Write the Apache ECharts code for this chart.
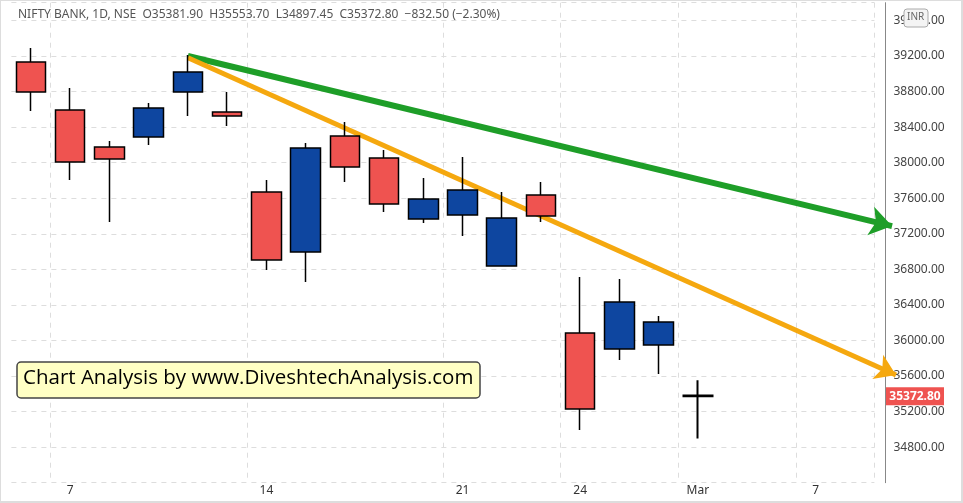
<!DOCTYPE html>
<html><head><meta charset="utf-8">
<script src="https://cdn.jsdelivr.net/npm/echarts@6/dist/echarts.min.js"></script>
<style>html,body{margin:0;padding:0;background:#fff}#c{width:963px;height:503px}</style>
</head><body><div id="c"></div>
<script>
const categories = ['4','7','8','9','10','11','14','15','16','17','18','21','22','23','24','25','28','Mar','3','4','7','8'];
const shownIdx = [1,6,11,14,17,20];
// [open, close, low, high]
const ohlc = [
 [39132,38795,38581,39290],
 [38592,38008,37805,38840],
 [38176,38041,37332,38244],
 [38289,38615,38199,38671],
 [38795,39020,38525,39211],
 [38570,38525,38412,38795],
 [37670,36905,36792,37805],
 [36995,38165,36657,38221],
 [38300,37951,37782,38457],
 [38052,37535,37445,38142],
 [37366,37591,37321,37827],
 [37411,37692,37175,38064],
 [36837,37377,36837,37670],
 [37636,37400,37332,37782],
 [36084,35229,34992,36714],
 [35904,36432,35780,36691],
 [35949,36208,35622,36275],
 [35381.90,35372.80,34897.45,35553.70]
];
const greenLine = [[4,39200],[21.95,37287]];
const orangeLine = [[4,39180],[22.05,35611]];
const lastClose = 35372.80;
const yTicks = {min:34400,max:39800,interval:400};

const chart = echarts.init(document.getElementById('c'));
const candleData = ohlc.map((d,i)=> i===ohlc.length-1 ? {value:d,itemStyle:{color:'#000',color0:'#000',borderColor:'#000',borderColor0:'#000',borderWidth:2}} : d);
chart.setOption({
 animation:false,
 backgroundColor:'#fff',
 grid:{left:11.4,width:863,top:2.7,height:480},
 xAxis:[{type:'category',data:categories,boundaryGap:true,
   axisLine:{show:false},axisTick:{show:false},
   axisLabel:{interval:(i)=>shownIdx.includes(i),color:'#333',fontSize:12,fontFamily:'Noto Sans',margin:2},
   splitLine:{show:true,interval:(i)=>shownIdx.includes(i),lineStyle:{color:'#ddd',type:[5,5]}}},
  {type:'value',min:-0.5,max:21.5,show:false}],
 yAxis:{type:'value',position:'right',offset:11,min:yTicks.min,max:yTicks.max,interval:yTicks.interval,
   axisLine:{show:true,onZero:false,lineStyle:{color:'#888'}},axisTick:{show:false},
   axisLabel:{color:'#444',fontSize:12,fontFamily:'Noto Sans',margin:8,
     formatter:v=>(v<=yTicks.min||v>=yTicks.max)?'':v.toFixed(2)},
   splitLine:{lineStyle:{color:'#ddd',type:[5,5]}}},
 series:[
  {type:'candlestick',data:candleData,barWidth:30,
   itemStyle:{color:'#0e46a0',color0:'#ef5350',borderColor:'#000',borderColor0:'#000',borderWidth:1.5}},
  {type:'lines',coordinateSystem:'cartesian2d',xAxisIndex:1,clip:false,
   lineStyle:{color:'#1e9e28',width:6,opacity:1},symbol:['none','arrow'],symbolSize:[0,22],
   data:[{coords:greenLine}]},
  {type:'lines',coordinateSystem:'cartesian2d',xAxisIndex:1,clip:false,
   lineStyle:{color:'#f5a80f',width:5,opacity:1},symbol:['none','arrow'],symbolSize:[0,20],
   data:[{coords:orangeLine}]}
 ],
 graphic:[
  {type:'rect',shape:{x:0,y:0,width:962,height:502},style:{fill:'none',stroke:'#ddd',lineWidth:2},z:0,silent:true},
  {type:'text',left:18,top:9,style:{text:'NIFTY BANK, 1D, NSE  O35381.90  H35553.70  L34897.45  C35372.80  −832.50 (−2.30%)',fill:'#555',font:'12px "Noto Sans"'},z:10},
  {type:'rect',shape:{x:904,y:9,width:24,height:18,r:3},style:{fill:'#f4f4f4',stroke:'#aaa'},z:10},
  {type:'text',x:907,y:12,style:{text:'INR',fill:'#666',font:'10px "Noto Sans"'},z:11},
  {type:'rect',shape:{x:17,y:362,width:463,height:36,r:4},style:{fill:'#ffffc4',stroke:'#444',lineWidth:1.5},z:10},
  {type:'text',x:23,y:368,style:{text:'Chart Analysis by www.DiveshtechAnalysis.com',fill:'#000',font:'20.5px "Open Sans"'},z:11}
 ]
});
const py = chart.convertToPixel({yAxisIndex:0}, lastClose);
chart.setOption({graphic:[
  {type:'rect',id:'tagbg',shape:{x:886,y:py-9,width:58,height:18},style:{fill:'#ef5350'},z:20},
  {type:'text',id:'tagtx',x:915,y:py,style:{text:lastClose.toFixed(2),fill:'#fff',font:'bold 12px "Noto Sans"',align:'center',verticalAlign:'middle'},z:21}
]});
</script></body></html>
